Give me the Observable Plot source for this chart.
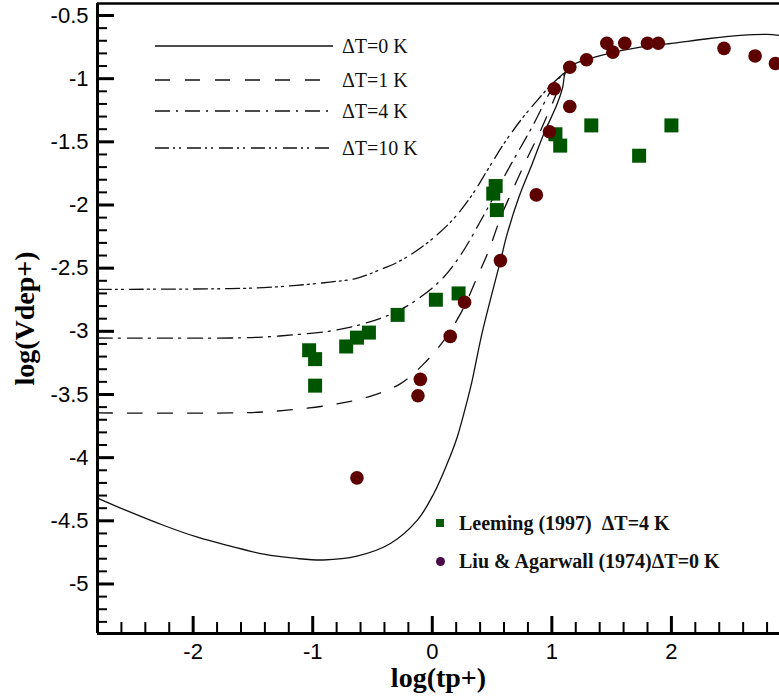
<!DOCTYPE html>
<html><head><meta charset="utf-8">
<script src="https://cdn.jsdelivr.net/npm/d3@7"></script>
<script src="https://cdn.jsdelivr.net/npm/@observablehq/plot@0.6"></script>
<style>
body{margin:0;background:#fff;}
#wrap{position:relative;width:779px;height:697px;overflow:hidden;background:#fff;}
.lg{position:absolute;display:flex;align-items:center;white-space:pre;color:#111;}
</style></head><body><div id="wrap"></div>
<script>
// ---- data ----
const xDomain = [-2.8, 2.904];
const yDomain = [-5.392, -0.405];
const xMajor = [-2, -1, 0, 1, 2];
const xTickLabels = ["-2", "-1", "0", "1", "2"];
const yMajor = [-0.5, -1, -1.5, -2, -2.5, -3, -3.5, -4, -4.5, -5];
const yTickLabels = ["-0.5", "-1", "-1.5", "-2", "-2.5", "-3", "-3.5", "-4", "-4.5", "-5"];

// Leeming (1997) dT=4 K
const leemingX = [-1.03, -0.98, -0.98, -0.72, -0.63, -0.53, -0.29, 0.03, 0.22, 0.53, 0.51, 0.54, 1.03, 1.07, 1.33, 1.73, 2.00];
const leemingY = [-3.15, -3.22, -3.43, -3.12, -3.05, -3.01, -2.87, -2.75, -2.70, -1.85, -1.91, -2.04, -1.44, -1.53, -1.37, -1.61, -1.37];
// Liu & Agarwall (1974) dT=0 K
const liuX = [-0.63, -0.12, -0.10, 0.15, 0.27, 0.57, 0.87, 0.98, 1.02, 1.15, 1.15, 1.29, 1.46, 1.51, 1.61, 1.80, 1.89, 2.44, 2.70, 2.87];
const liuY = [-4.16, -3.51, -3.38, -3.04, -2.77, -2.44, -1.92, -1.42, -1.08, -1.22, -0.91, -0.85, -0.72, -0.79, -0.72, -0.72, -0.72, -0.76, -0.82, -0.88];

// model curves [log(tp+), log(Vdep+)]
const dT0 = [[-2.80,-4.32],[-2.53,-4.43],[-2.25,-4.535],[-1.97,-4.628],[-1.69,-4.70],[-1.41,-4.764],[-1.135,-4.798],[-0.91,-4.81],[-0.63,-4.78],[-0.35,-4.68],[-0.125,-4.495],[0.013,-4.284],[0.125,-4.047],[0.209,-3.836],[0.293,-3.546],[0.334,-3.388],[0.415,-3.02],[0.571,-2.438],[0.627,-2.227],[0.724,-1.938],[0.836,-1.673],[0.933,-1.436],[1.045,-1.199],[1.09,-1.07],[1.11,-0.96],[1.148,-0.905],[1.288,-0.85],[1.463,-0.803],[1.742,-0.751],[2.02,-0.719],[2.30,-0.684],[2.578,-0.658],[2.80,-0.650],[2.90,-0.658]];
const dT1 = [[-2.80,-3.646],[-1.69,-3.646],[-1.41,-3.638],[-1.135,-3.617],[-0.83,-3.58],[-0.54,-3.52],[-0.265,-3.414],[-0.07,-3.256],[0.097,-3.071],[0.251,-2.834],[0.376,-2.57],[0.473,-2.359],[0.571,-2.10],[0.682,-1.86],[0.794,-1.63],[0.906,-1.41],[1.003,-1.199],[1.073,-1.04],[1.11,-0.95]];
const dT4 = [[-2.80,-3.053],[-1.69,-3.053],[-1.41,-3.045],[-1.135,-3.026],[-0.856,-2.998],[-0.572,-2.939],[-0.30,-2.845],[-0.098,-2.729],[0.097,-2.57],[0.255,-2.37],[0.39,-2.15],[0.50,-1.96],[0.599,-1.779],[0.724,-1.568],[0.849,-1.357],[0.962,-1.146],[1.045,-1.014],[1.11,-0.95]];
const dT10 = [[-2.80,-2.668],[-1.69,-2.662],[-1.41,-2.654],[-1.135,-2.636],[-0.856,-2.61],[-0.633,-2.58],[-0.43,-2.51],[-0.265,-2.44],[-0.07,-2.32],[0.153,-2.135],[0.32,-1.938],[0.46,-1.726],[0.599,-1.515],[0.738,-1.331],[0.878,-1.172],[0.989,-1.054],[1.11,-0.95]];

const lineLegendLabels = ["ΔT=0 K", "ΔT=1 K", "ΔT=4 K", "ΔT=10 K"];
const pointLegendLabels = ["Leeming (1997)  ΔT=4 K", "Liu & Agarwall (1974)ΔT=0 K"];

// ---- styles ----
const dashes = ["none", "15,15", "15,6,2,7", "14,4,2,4,2,6"];
const curves = [dT0, dT1, dT4, dT10];
const leeming = leemingX.map((x, i) => ({x, y: leemingY[i]}));
const liu = liuX.map((x, i) => ({x, y: liuY[i]}));
const xMinor = d3.range(-28, 29, 2).map(v => v / 10).filter(v => Math.abs(v - Math.round(v)) > 1e-9);
const yMinor = d3.range(-6, -54, -1).map(v => v / 10).filter(v => Math.abs(v * 2 - Math.round(v * 2)) > 1e-9);
const serif = "'Liberation Serif', 'Times New Roman', serif";

const plot = Plot.plot({
  width: 779, height: 697,
  marginLeft: 97, marginRight: 0, marginTop: 3, marginBottom: 64,
  x: {domain: xDomain, label: null},
  y: {domain: yDomain, label: null},
  style: {fontFamily: "'Liberation Sans', Arial, sans-serif", fontSize: "22px", color: "#000", background: "#fff"},
  marks: [
    ...curves.map((c, i) => Plot.line(c, {x: d => d[0], y: d => d[1], stroke: "#111", strokeWidth: 1.3, strokeDasharray: dashes[i], curve: "catmull-rom"})),
    Plot.dot(leeming, {x: "x", y: "y", symbol: "square", r: 7.9, fill: "#005500"}),
    Plot.dot(liu, {x: "x", y: "y", r: 6.8, fill: "#5e0000"}),
    Plot.axisX(xMinor, {anchor: "bottom", tickSize: 11, dy: -11, strokeWidth: 2, fill: "none", label: null}),
    Plot.axisX(xMajor, {anchor: "bottom", tickSize: 17, dy: -17, strokeWidth: 3, fill: "none", label: null}),
    Plot.axisX(xMajor, {anchor: "bottom", tickSize: 0, tickPadding: 10, tickFormat: d => xTickLabels[xMajor.indexOf(d)], fontSize: 22, label: null}),
    Plot.axisY(yMinor, {anchor: "left", tickSize: 10, dx: 10, strokeWidth: 2, fill: "none", label: null}),
    Plot.axisY(yMajor, {anchor: "left", tickSize: 17, dx: 17, strokeWidth: 3, fill: "none", label: null}),
    Plot.axisY(yMajor, {anchor: "left", tickSize: 0, tickPadding: 9, tickFormat: d => yTickLabels[yMajor.indexOf(d)], fontSize: 22, label: null}),
    Plot.ruleX([xDomain[0]], {strokeWidth: 3, stroke: "#000"}),
    Plot.ruleY([yDomain[0]], {strokeWidth: 3, stroke: "#000"}),
    Plot.ruleY([yDomain[1]], {strokeWidth: 2.5, stroke: "#000"}),
    Plot.text(["log(tp+)"], {text: d => d, frameAnchor: "bottom", dy: 45, lineAnchor: "middle", textAnchor: "middle", fontSize: 28, fontWeight: "bold", fontFamily: serif}),
    Plot.text(["log(Vdep+)"], {text: d => d, frameAnchor: "left", dx: -72, rotate: -90, textAnchor: "middle", lineAnchor: "middle", fontSize: 28, fontWeight: "bold", fontFamily: serif})
  ]
});
const wrap = document.getElementById("wrap");
wrap.appendChild(plot);

// ---- legends (overlay) ----
const lineTops = [46, 80, 111, 148];
lineLegendLabels.forEach((lab, i) => {
  const row = document.createElement("div");
  row.className = "lg";
  row.style.left = "155px";
  row.style.top = (lineTops[i] - 14) + "px";
  row.style.height = "28px";
  row.innerHTML = `<svg width="178" height="4" style="display:block"><line x1="0" y1="2" x2="178" y2="2" stroke="#111" stroke-width="1.3" ${dashes[i] === "none" ? "" : `stroke-dasharray="${dashes[i]}"`}/></svg><span style="margin-left:9px;font:20px ${serif}">${lab}</span>`;
  wrap.appendChild(row);
});
const pointTops = [523, 561];
const pointMarks = [
  `<span style="display:inline-block;width:8px;height:8px;background:#0a5a0a"></span>`,
  `<span style="display:inline-block;width:9px;height:9px;border-radius:50%;background:#4a0a48"></span>`
];
const pointLefts = [436, 435.5];
pointLegendLabels.forEach((lab, i) => {
  const row = document.createElement("div");
  row.className = "lg";
  row.style.left = pointLefts[i] + "px";
  row.style.top = (pointTops[i] - 14) + "px";
  row.style.height = "28px";
  const span = document.createElement("span");
  span.style.cssText = `margin-left:${i === 0 ? 15 : 14.5}px;font:bold 20px ${serif}`;
  span.textContent = lab;
  row.innerHTML = pointMarks[i];
  row.appendChild(span);
  wrap.appendChild(row);
});
</script></body></html>
